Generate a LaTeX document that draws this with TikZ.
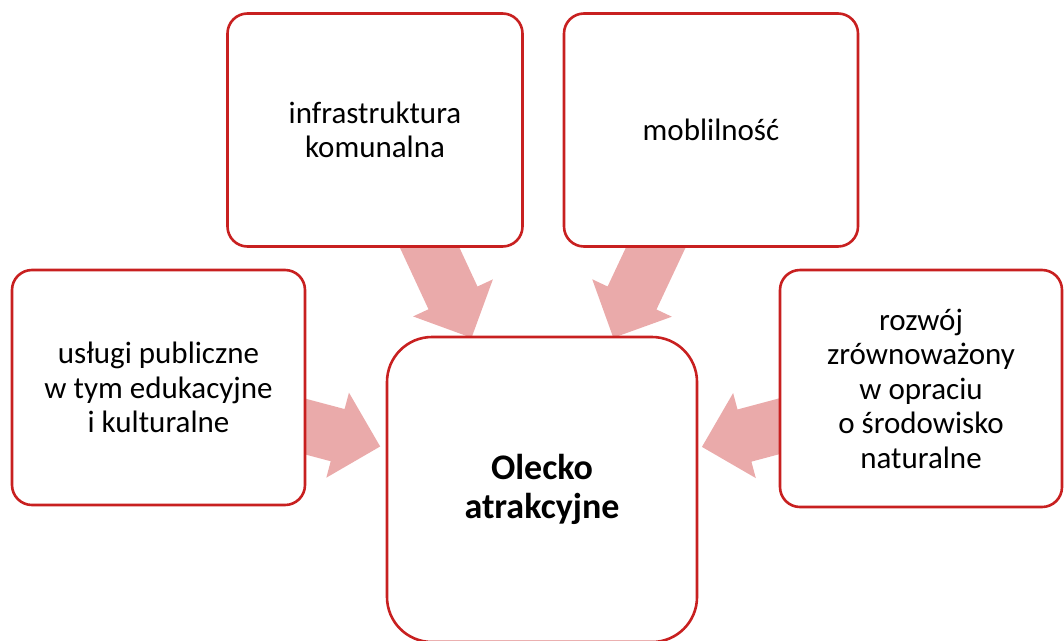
\documentclass[tikz,border=0pt]{standalone}
\usepackage{fontspec}
\setmainfont{Carlito}
\usetikzlibrary{calc,backgrounds}
\definecolor{boxred}{RGB}{200,32,32}
\definecolor{arrowpink}{RGB}{234,170,170}
\tikzset{
  card/.style={draw=boxred, line width=2.6pt, fill=white, rounded corners=20pt,
    align=center, inner sep=0pt, font=\fontsize{31}{34.5}\selectfont},
  hub/.style={card, rounded corners=45pt, font=\bfseries\fontsize{36}{39}\selectfont},
  blockarrow/.style={fill=arrowpink, draw=none},
}
\newcommand\flowarrow[2]{%
  \coordinate (S) at ($(#1)!0.28!(#2)$);
  \coordinate (T) at ($(#1)!0.578!(#2)$);
  \coordinate (H) at ($(T)!44pt!(S)$);
  \fill[blockarrow] ($(S)!27pt!90:(T)$) -- ($(H)!27pt!90:(T)$) -- ($(H)!44pt!90:(T)$)
    -- (T) -- ($(H)!44pt!-90:(T)$) -- ($(H)!27pt!-90:(T)$) -- ($(S)!27pt!-90:(T)$) -- cycle;
}
\begin{document}
\begin{tikzpicture}[x=1pt,y=-1pt]
\useasboundingbox (0,0) rectangle (1064,640);
\node[card, minimum width=295pt, minimum height=233pt] (infra) at (375,130) {infrastruktura\\komunalna};
\node[card, minimum width=294pt, minimum height=233pt] (mob) at (711,130) {moblilność};
\node[card, minimum width=293pt, minimum height=235pt] (usl) at (158.5,387.5) {usługi publiczne\\w tym edukacyjne\\i kulturalne};
\node[card, minimum width=282pt, minimum height=237pt] (roz) at (921,388.5) {rozwój\\zrównoważony\\w opraciu\\o środowisko\\naturalne};
\node[hub, minimum width=310pt, minimum height=305pt] (hub) at (542,489.5) {Olecko\\atrakcyjne};
\begin{scope}[on background layer]
  \flowarrow{infra}{hub}
  \flowarrow{mob}{hub}
  \flowarrow{usl}{hub}
  \flowarrow{roz}{hub}
\end{scope}
\end{tikzpicture}
\end{document}
